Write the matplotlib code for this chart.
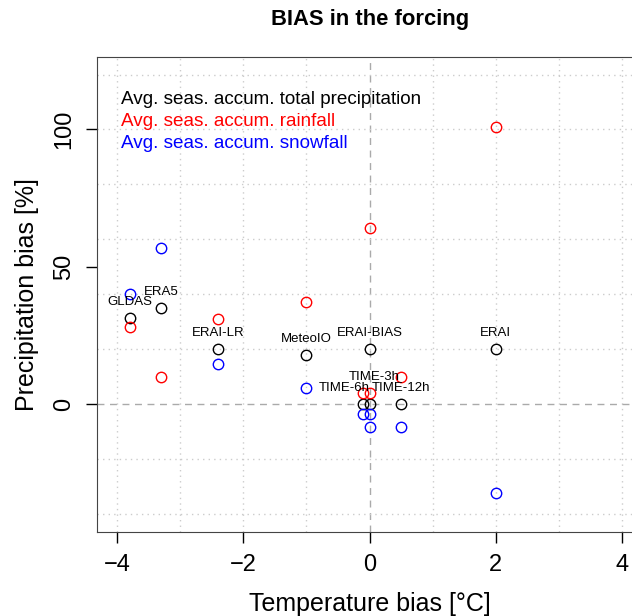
import matplotlib
matplotlib.use("Agg")
import matplotlib.pyplot as plt

plt.rcParams['font.family'] = ['Liberation Sans', 'DejaVu Sans']

# data
models = ['GLDAS', 'ERA5', 'ERAI-LR', 'MeteoIO', 'ERAI-BIAS', 'ERAI',
          'TIME-3h', 'TIME-6h', 'TIME-12h']
temp_bias = [-3.8, -3.3, -2.4, -1.0, 0.0, 2.0, -0.1, 0.0, 0.5]
precip_bias = [31.5, 35, 20, 18, 20, 20, 0, 0, 0]
rain_bias = [28, 10, 31, 37, 64, 101, 4, 4, 10]
snow_bias = [40, 57, 14.5, 6, -8.5, -32.5, -3.5, -3.5, -8.5]

# label offsets in points (dx, dy) from the total-precipitation point
label_off = {'TIME-3h': (8, 19.5), 'TIME-6h': (-18, 11.5)}

fig = plt.figure(figsize=(6.32, 6.16), dpi=100)
ax = fig.add_axes([97 / 632, 1 - 531.5 / 616, 545 / 632, 474.5 / 616])

# grid like R: dotted light grey, zero lines dashed
for gx in range(-4, 5):
    if gx == 0:
        ax.axvline(gx, color='#aaaaaa', lw=1, ls=(0, (5, 4)), zorder=0)
    else:
        ax.axvline(gx, color='#cccccc', lw=1, ls=(0, (1, 3)), zorder=0)
for gy in range(-40, 121, 20):
    if gy == 0:
        ax.axhline(gy, color='#aaaaaa', lw=1, ls=(0, (5, 4)), zorder=0)
    else:
        ax.axhline(gy, color='#cccccc', lw=1, ls=(0, (1, 3)), zorder=0)

ms = 7.5
ax.plot(temp_bias, precip_bias, 'o', mfc='none', mec='black', ms=ms, mew=1)
ax.plot(temp_bias, rain_bias, 'o', mfc='none', mec='red', ms=ms, mew=1)
ax.plot(temp_bias, snow_bias, 'o', mfc='none', mec='blue', ms=ms, mew=1)

for m, x, y in zip(models, temp_bias, precip_bias):
    dx, dy = label_off.get(m, (0, 11.5))
    ax.annotate(m, (x, y), xytext=(dx, dy), textcoords='offset points',
                ha='center', va='center', fontsize=9.5)

ax.text(-3.94, 110.8, 'Avg. seas. accum. total precipitation', color='black',
        fontsize=13.6, va='center')
ax.text(-3.94, 102.8, 'Avg. seas. accum. rainfall', color='red',
        fontsize=13.6, va='center')
ax.text(-3.94, 94.8, 'Avg. seas. accum. snowfall', color='blue',
        fontsize=13.6, va='center')

ax.set_xlim(-4.32, 4.32)
ax.set_ylim(-46.4, 126.4)
ax.set_xticks([-4, -2, 0, 2, 4])
ax.set_yticks([0, 50, 100])
ax.tick_params(length=8, width=1, labelsize=17, pad=8)
for lab in ax.get_yticklabels():
    lab.set_rotation(90)
    lab.set_va('center')
for s in ax.spines.values():
    s.set_color('#444444')

ax.set_xlabel('Temperature bias [°C]', fontsize=18, labelpad=12)
ax.set_ylabel('Precipitation bias [%]', fontsize=18, labelpad=10)
fig.text(370 / 632, 1 - 20 / 616, 'BIAS in the forcing', ha='center',
         va='center', fontsize=15.8, fontweight='bold')

fig.savefig('out.png', dpi=100)
